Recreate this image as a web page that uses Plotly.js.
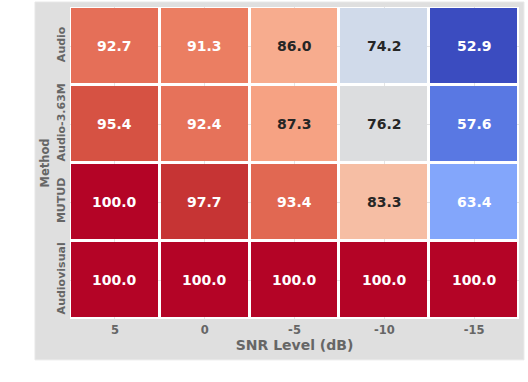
<!DOCTYPE html>
<html>
<head>
<meta charset="utf-8">
<script src="https://cdn.plot.ly/plotly-3.0.1.min.js"></script>
<style>html,body{margin:0;padding:0;background:#fff;}#chart{width:528px;height:382px;}</style>
</head>
<body>
<div id="chart"></div>
<script>
const snrLevels = ["5", "0", "-5", "-10", "-15"];
const methods = ["Audio", "Audio-3.63M", "MUTUD", "Audiovisual"];
const audio = [92.7, 91.3, 86.0, 74.2, 52.9];
const audio363 = [95.4, 92.4, 87.3, 76.2, 57.6];
const mutud = [100.0, 97.7, 93.4, 83.3, 63.4];
const audiovisual = [100.0, 100.0, 100.0, 100.0, 100.0];
const zRows = [audio, audio363, mutud, audiovisual];

const coolwarm = [
 [0,"rgb(59,76,192)"],[0.03125,"rgb(68,90,204)"],[0.0625,"rgb(77,104,215)"],[0.09375,"rgb(87,117,225)"],
 [0.125,"rgb(98,130,234)"],[0.15625,"rgb(108,142,241)"],[0.1875,"rgb(119,154,247)"],[0.21875,"rgb(130,165,251)"],
 [0.25,"rgb(141,176,254)"],[0.28125,"rgb(152,185,255)"],[0.3125,"rgb(163,194,255)"],[0.34375,"rgb(174,201,253)"],
 [0.375,"rgb(184,208,249)"],[0.40625,"rgb(194,213,244)"],[0.4375,"rgb(204,217,238)"],[0.46875,"rgb(213,219,230)"],
 [0.5,"rgb(221,221,221)"],[0.53125,"rgb(229,216,209)"],[0.5625,"rgb(236,211,197)"],[0.59375,"rgb(241,204,185)"],
 [0.625,"rgb(245,196,173)"],[0.65625,"rgb(247,187,160)"],[0.6875,"rgb(247,177,148)"],[0.71875,"rgb(247,166,135)"],
 [0.75,"rgb(244,154,123)"],[0.78125,"rgb(241,141,111)"],[0.8125,"rgb(236,127,99)"],[0.84375,"rgb(229,112,88)"],
 [0.875,"rgb(222,96,77)"],[0.90625,"rgb(213,80,66)"],[0.9375,"rgb(203,62,56)"],[0.96875,"rgb(192,40,47)"],
 [1,"rgb(180,4,38)"]
];

const allVals = zRows.flat();
const zmin = Math.min(...allVals), zmax = Math.max(...allVals);

const annotations = [];
zRows.forEach((row, i) => {
  row.forEach((v, j) => {
    const t = (v - zmin) / (zmax - zmin);
    const dark = t > 0.3 && t < 0.77;
    annotations.push({
      x: j, y: i, xref: "x", yref: "y",
      text: v.toFixed(1), showarrow: false,
      font: {family: "DejaVu Sans", size: 14, color: dark ? "#262626" : "#ffffff", weight: "bold"}
    });
  });
});

const trace = {
  type: "heatmap",
  x: snrLevels, y: methods, z: zRows,
  colorscale: coolwarm, zmin: zmin, zmax: zmax,
  showscale: false, xgap: 3, ygap: 3, hoverinfo: "skip"
};

const layout = {
  width: 528, height: 382,
  margin: {l: 70, r: 9, t: 7, b: 63},
  paper_bgcolor: "#ffffff", plot_bgcolor: "#ffffff",
  font: {family: "DejaVu Sans", color: "#666666"},
  xaxis: {
    type: "category", range: [-0.5, 4.5], autorange: false,
    showgrid: true, gridcolor: "#e4e4e4", zeroline: false, ticks: "",
    tickangle: 0,
    tickfont: {size: 11.5, weight: "bold", color: "#666666"},
    ticklabelstandoff: 2,
    title: {text: "SNR Level (dB)", font: {size: 14, weight: "bold", color: "#666666"}, standoff: 4}
  },
  yaxis: {
    type: "category", range: [3.5, -0.5], autorange: false,
    showgrid: true, gridcolor: "#e4e4e4", zeroline: false, ticks: "",
    tickangle: -90, tickfont: {size: 11, weight: "bold", color: "#666666"},
    ticklabelstandoff: 2,
    title: {text: "Method", font: {size: 11.5, weight: "bold", color: "#666666"}, standoff: 2}
  },
  shapes: [
    {type: "rect", xref: "paper", yref: "paper", x0: -0.078, x1: 1.011, y0: -0.131, y1: 1.016,
     fillcolor: "#dfdfdf", line: {width: 1, color: "#e8e8e8"}, layer: "below"},
    {type: "rect", xref: "paper", yref: "paper", x0: 0, x1: 1, y0: 0, y1: 1,
     fillcolor: "#ffffff", line: {width: 0}, layer: "below"}
  ],
  annotations: annotations
};

Plotly.newPlot("chart", [trace], layout, {displayModeBar: false, staticPlot: true});
</script>
</body>
</html>
